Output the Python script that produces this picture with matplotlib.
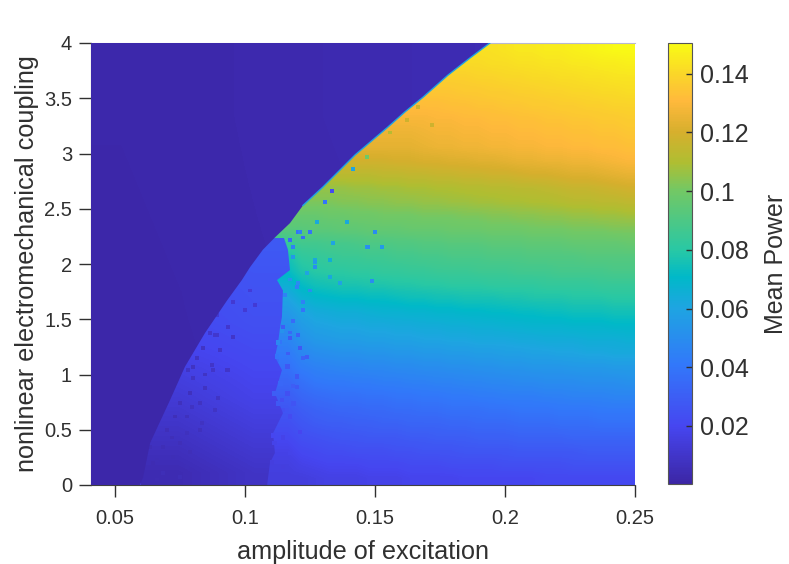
import numpy as np
import matplotlib
matplotlib.use('Agg')
import matplotlib.pyplot as plt
from matplotlib.colors import LinearSegmentedColormap, Normalize
from matplotlib.patches import Polygon

plt.rcParams['font.family'] = ['Liberation Sans', 'DejaVu Sans']
text_col = '#303030'

# colours
cmap_pos = [0.0, 0.13, 0.27, 0.40, 0.47, 0.53, 0.667, 0.73, 0.80, 0.87, 0.933, 1.0]
cmap_rgb = [(60, 38, 165), (70, 70, 240), (50, 120, 250), (30, 165, 225), (0, 185, 200), (40, 200, 165),
            (115, 200, 100), (175, 190, 50), (215, 175, 45), (255, 185, 60), (250, 215, 40), (249, 251, 21)]

amp_range = [0.04077, 0.25]
coupling_range = [0, 4]
power_range = [0.0002, 0.1505]

# mean power x 1000 of the high branch, rows from coupling 4 down to 0
power = [
    [143]*29 + [143, 144, 145, 145, 146, 146, 147, 148, 149, 150, 150],
    [141]*28 + [141, 142, 142, 143, 143, 144, 144, 145, 145, 146, 146, 147],
    [138]*27 + [138, 139, 139, 140, 140, 141, 141, 142, 142, 143, 143, 144, 144],
    [135]*26 + [135, 136, 136, 137, 137, 138, 138, 139, 139, 140, 140, 141, 141, 142],
    [132]*25 + [132, 133, 133, 134, 134, 135, 135, 136, 136, 137, 137, 138, 138, 139, 139],
    [129]*24 + [129, 130, 130, 131, 131, 132, 132, 133, 133, 134, 134, 135, 135, 136, 136, 137],
    [126]*23 + [126, 127, 128, 128, 129, 129, 130, 130, 131, 131, 132, 132, 133, 133, 134, 134, 135],
    [124]*22 + [124, 124, 125, 126, 126, 127, 127, 128, 128, 129, 129, 130, 130, 131, 131, 132, 132, 133],
    [119]*20 + [119, 119, 120, 120, 121, 121, 122, 122, 123, 123, 124, 125, 125, 126, 126, 127, 127, 128, 129, 130],
    [113]*19 + [113, 113, 114, 114, 115, 115, 116, 116, 117, 117, 118, 118, 119, 120, 120, 121, 122, 122, 123, 124, 125],
    [106]*18 + [106, 107, 107, 108, 108, 109, 109, 110, 110, 111, 111, 112, 112, 113, 113, 114, 115, 116, 116, 117, 118, 119],
    [102]*17 + [102, 103, 103, 104, 104, 105, 105, 106, 106, 107, 107, 108, 108, 109, 109, 110, 110, 111, 112, 112, 113, 113, 114],
    [97]*16 + [97, 98, 98, 99, 99, 100, 100, 100, 101, 101, 101, 102, 102, 103, 103, 104, 104, 105, 105, 106, 106, 107, 107, 108],
    [93]*15 + [93, 94, 94, 95, 95, 96, 96, 96, 97, 97, 97, 98, 98, 98, 99, 99, 99, 100, 100, 100, 101, 101, 101, 102, 102],
    [84]*14 + [84, 87, 87, 88, 88, 89, 90, 90, 91, 91, 92, 92, 93, 93, 93, 94, 94, 94, 95, 95, 95, 96, 96, 96, 96, 97],
    [76]*14 + [76, 82, 83, 84, 85, 85, 86, 86, 87, 87, 88, 88, 89, 89, 89, 90, 90, 90, 91, 91, 91, 91, 92, 92, 92, 92],
    [72]*14 + [72, 78, 80, 81, 81, 82, 82, 83, 83, 84, 84, 85, 85, 85, 86, 86, 86, 87, 87, 87, 88, 88, 88, 88, 89, 89],
    [66]*14 + [66, 72, 75, 76, 77, 77, 78, 78, 79, 79, 80, 80, 81, 81, 81, 82, 82, 82, 82, 83, 83, 83, 83, 84, 84, 84],
    [60]*14 + [60, 66, 69, 70, 71, 71, 72, 72, 73, 74, 74, 75, 75, 76, 76, 76, 77, 77, 78, 78, 78, 79, 79, 79, 80, 80],
    [55]*14 + [55, 60, 63, 64, 65, 65, 66, 67, 67, 68, 68, 69, 69, 70, 70, 71, 71, 72, 72, 73, 73, 74, 74, 74, 75, 75],
    [50]*14 + [50, 56, 59, 60, 61, 61, 62, 62, 63, 63, 64, 64, 65, 65, 66, 66, 67, 67, 68, 68, 68, 69, 69, 69, 70, 70],
    [46]*14 + [46, 52, 55, 56, 57, 57, 58, 58, 59, 59, 60, 60, 61, 61, 62, 62, 62, 63, 63, 64, 64, 64, 65, 65, 65, 66],
    [42]*14 + [42, 47, 50, 51, 52, 52, 53, 53, 54, 54, 55, 55, 56, 56, 57, 57, 58, 58, 59, 59, 60, 60, 61, 61, 62, 62],
    [38]*14 + [38, 43, 45, 46, 47, 47, 48, 48, 49, 49, 50, 50, 51, 51, 52, 52, 53, 53, 54, 54, 54, 55, 55, 55, 56, 56],
    [34]*14 + [34, 38, 41, 42, 42, 43, 43, 44, 44, 45, 45, 46, 46, 47, 47, 48, 48, 49, 49, 50, 50, 50, 51, 51, 51, 52],
    [30]*14 + [30, 34, 36, 37, 38, 38, 39, 39, 40, 40, 41, 41, 42, 42, 43, 43, 44, 44, 44, 45, 45, 46, 46, 46, 47, 47],
    [27]*14 + [27, 30, 32, 33, 34, 34, 35, 35, 36, 36, 37, 37, 38, 38, 38, 39, 39, 40, 40, 40, 41, 41, 41, 42, 42, 42],
    [24]*14 + [24, 27, 29, 30, 30, 31, 31, 32, 32, 33, 33, 33, 34, 34, 35, 35, 35, 36, 36, 36, 37, 37, 37, 38, 38, 38],
    [21]*14 + [21, 24, 25, 26, 27, 27, 28, 28, 28, 29, 29, 30, 30, 30, 31, 31, 31, 32, 32, 32, 32, 33, 33, 33, 33, 33],
    [18]*14 + [18, 21, 22, 23, 23, 24, 24, 24, 25, 25, 26, 26, 26, 27, 27, 27, 27, 28, 28, 28, 28, 28, 29, 29, 29, 29],
    [16]*14 + [16, 18, 19, 20, 20, 20, 21, 21, 21, 22, 22, 22, 23, 23, 23, 23, 24, 24, 24, 24, 24, 25, 25, 25, 25, 25],
    [15]*14 + [15, 15, 16, 17, 17, 17, 18, 18, 18, 19, 19, 19, 19, 20, 20, 20, 20, 20, 20, 21, 21, 21, 21, 21, 21, 21],
]

# middle branch x 1000, coupling 2.25 on top and 0 at the bottom, low and high amplitude side
mid_power = [
    [24, 28], [23, 26], [22, 25], [21, 24], [19, 22],
    [16, 20], [13, 18], [10, 15], [7, 12], [4, 9],
]
mid_amp_range = [0.06, 0.118]
mid_coupling_range = [0, 2.25]

# second transition between the middle and high branch
second_coupling = [0, 0.2, 0.29, 0.47, 0.65, 0.83, 1.04, 1.16, 1.285, 1.43, 1.52, 1.76, 1.855, 1.945, 2.13, 2.235]
second_amp = [0.1085, 0.1096, 0.1115, 0.1108, 0.1146, 0.1115, 0.1142, 0.1115, 0.1127, 0.1135, 0.1142, 0.1146,
              0.1123, 0.1173, 0.1165, 0.115]

# low power region left of the edge, x 1000, coupling 4 on top
low_power = [
    [2.0, 2.2, 2.6, 3.0, 3.4, 3.8, 4.4, 5.0, 5.4],
    [1.8, 2.0, 2.4, 2.7, 3.0, 3.4, 3.8, 4.2, 4.6],
    [1.6, 1.8, 2.0, 2.2, 2.5, 2.8, 3.0, 3.2, 3.4],
]

# edge of the low power region
edge_coupling = [4, 3.864, 3.71, 3.51, 3.376, 3.24, 3.14, 2.986, 2.805, 2.697, 2.53, 2.37, 2.24, 2.13, 1.97, 1.855,
                 1.67, 1.375, 1.07, 0.77, 0.38, 0.07, 0]
edge_amp = [0.1942, 0.1865, 0.1781, 0.1685, 0.1615, 0.155, 0.15, 0.1423, 0.1346, 0.13, 0.1223, 0.1173, 0.1115, 0.1069,
            0.1019, 0.0988, 0.0931, 0.0846, 0.0769, 0.0712, 0.0635, 0.0608, 0.0596]

# isolated points, dropped low in the band next to the edge
low_speck_amp = [0.1019, 0.1038, 0.1, 0.0954, 0.0935, 0.0892, 0.0954, 0.0892, 0.0838, 0.0931, 0.0877, 0.0846, 0.08,
                 0.0896, 0.0885, 0.0827, 0.0788, 0.075, 0.0731, 0.07, 0.0777, 0.0827, 0.0685, 0.0723, 0.0646, 0.0777, 0.0662,
                 0.0865, 0.0885, 0.0904, 0.0935, 0.0873, 0.0846, 0.0796, 0.0835, 0.0777, 0.075, 0.0719, 0.0788, 0.0662,
                 0.0685, 0.075, 0.0635, 0.08, 0.0815, 0.0781]
low_speck_coupling = [1.76, 1.63, 1.58, 1.66, 1.43, 1.54, 1.34, 1.36, 1.24, 1.04, 1.04, 1.0, 1.07,
                      0.79, 0.68, 0.74, 0.83, 0.74, 0.62, 0.5, 0.62, 0.5, 0.34, 0.25, 0.2, 0.16, 0.05,
                      1.375, 1.36, 1.22, 1.04, 1.09, 0.88, 0.71, 0.56, 0.47, 0.38, 0.43, 0.3, 0.23,
                      0.11, 0.07, 0.34, 0.97, 1.15, 1.04]
low_speck_power = [14, 13, 13, 12, 11, 12, 10, 11, 9, 10, 10, 9, 8, 9, 9, 8, 7, 7, 6, 6, 7, 7, 5, 5, 4, 5, 4,
                   11, 11, 10, 10, 10, 8, 8, 8, 7, 6, 6, 6, 5, 5, 5, 5, 9, 9, 9]

# isolated points on the high branch
high_speck_amp = [0.1415, 0.1335, 0.1308, 0.1277, 0.1392, 0.1204, 0.1173, 0.1223, 0.125, 0.1135, 0.1185, 0.1469, 0.1338,
                  0.1269, 0.1146, 0.1327, 0.1212, 0.1238, 0.1204, 0.1185, 0.1223, 0.1165, 0.1185, 0.1162, 0.1142, 0.1135,
                  0.1212, 0.1123, 0.1135, 0.1154, 0.1173, 0.1238, 0.12,
                  0.1142, 0.1212, 0.1135, 0.1154, 0.1185, 0.1269, 0.1269, 0.15, 0.1473, 0.1527, 0.1488, 0.1327, 0.1365,
                  0.1204, 0.1223, 0.125, 0.1173, 0.12, 0.1146, 0.1173, 0.1146, 0.1665, 0.1558, 0.1469, 0.1719, 0.1623]
high_speck_coupling = [2.86, 2.66, 2.56, 2.38, 2.38, 2.29, 2.22, 2.24, 2.29, 2.19, 2.15, 2.15, 2.19,
                       2.04, 2.02, 2.04, 1.24, 1.16, 1.36, 1.48, 1.58, 1.19, 0.9, 0.68, 0.77, 0.5,
                       0.48, 1.13, 1.29, 1.72, 1.86, 1.92, 1.79,
                       2.22, 2.29, 2.02, 1.945, 2.06, 2.02, 1.97, 2.29, 2.15, 2.15, 1.85, 1.88, 1.83,
                       1.83, 1.66, 1.76, 1.38, 0.89, 0.68, 0.29, 0.16, 3.42, 3.19, 2.97, 3.26, 3.3]
high_speck_power = [60, 22, 40, 62, 62, 38, 35, 36, 40, 38, 45, 55, 60,
                    62, 40, 65, 28, 30, 32, 36, 40, 30, 30, 26, 24, 22, 20, 36, 40, 45, 55, 60, 45,
                    40, 45, 55, 45, 55, 55, 50, 50, 50, 55, 50, 62, 60,
                    50, 45, 52, 35, 28, 24, 18, 15, 118, 112, 100, 118, 118]

# fringe of the second transition
fringe_amp = [0.1127, 0.1123, 0.1135, 0.1115, 0.1127, 0.1108, 0.1115, 0.1104, 0.1142, 0.1135,
              0.1173, 0.12, 0.1162, 0.1173, 0.1146, 0.1185, 0.1223, 0.1162, 0.1146]
fringe_coupling = [1.29, 1.16, 1.24, 0.83, 0.74, 0.45, 0.38, 0.2, 1.4, 0.92,
                   1.33, 0.98, 0.83, 0.62, 0.43, 0.74, 1.15, 1.07, 1.43]
fringe_power = [48, 40, 42, 30, 28, 20, 18, 15, 52, 34, 28, 28, 24, 22, 18, 26, 32, 28, 30]

parula = LinearSegmentedColormap.from_list(
    'parula_like', [(p, tuple(c / 255 for c in rgb)) for p, rgb in zip(cmap_pos, cmap_rgb)], N=256)
norm = Normalize(power_range[0], power_range[1])
extent = amp_range + coupling_range

fig = plt.figure(figsize=(7.89, 5.64), dpi=100)
ax = fig.add_axes([91 / 789, 1 - 485 / 564, 544 / 789, 442 / 564])
cax = fig.add_axes([668 / 789, 1 - 484 / 564, 24 / 789, 441 / 564])

# high branch
im = ax.imshow(np.array(power) / 1000, extent=extent, origin='upper', aspect='auto',
               cmap=parula, norm=norm, interpolation='bilinear')
ax.scatter(high_speck_amp, high_speck_coupling, c=np.array(high_speck_power) / 1000, cmap=parula, norm=norm,
           s=8, marker='s', linewidths=0, zorder=2)

# middle branch, cut along the second transition
mid = ax.imshow(np.array(mid_power) / 1000, extent=mid_amp_range + mid_coupling_range, origin='upper', aspect='auto',
                cmap=parula, norm=norm, interpolation='bilinear', zorder=2.5)
mid_corners = [(amp_range[0], second_coupling[0])] + list(zip(second_amp, second_coupling)) + \
    [(amp_range[0], second_coupling[-1])]
mid.set_clip_path(Polygon(mid_corners, closed=True, transform=ax.transData))
ax.scatter(low_speck_amp, low_speck_coupling, c=np.array(low_speck_power) / 1000, cmap=parula, norm=norm,
           s=8, marker='s', linewidths=0, zorder=2.6)
ax.scatter(fringe_amp, fringe_coupling, c=np.array(fringe_power) / 1000, cmap=parula, norm=norm,
           s=12, marker='s', linewidths=0, zorder=2.7)

# low power region, cut along the edge
low = ax.imshow(np.array(low_power) / 1000, extent=extent, origin='upper', aspect='auto',
                cmap=parula, norm=norm, interpolation='bilinear', zorder=3)
corners = [(amp_range[0], coupling_range[1])] + list(zip(edge_amp, edge_coupling)) + [(amp_range[0], coupling_range[0])]
low.set_clip_path(Polygon(corners, closed=True, transform=ax.transData))

# thin light line along the upper part of the edge
ax.plot(edge_amp[:11], edge_coupling[:11], color=parula(norm(0.06)), lw=1.0, zorder=4)

ax.set_xlim(amp_range)
ax.set_ylim(coupling_range)
ax.set_xticks([0.05, 0.1, 0.15, 0.2, 0.25])
ax.set_xticklabels(['0.05', '0.1', '0.15', '0.2', '0.25'])
ax.set_yticks([0, 0.5, 1, 1.5, 2, 2.5, 3, 3.5, 4])
ax.set_yticklabels(['0', '0.5', '1', '1.5', '2', '2.5', '3', '3.5', '4'])
ax.tick_params(direction='out', length=8.6, width=1, labelsize=14.5, colors=text_col)
ax.tick_params(axis='x', pad=9)
ax.tick_params(axis='y', pad=5)
ax.set_xlabel('amplitude of excitation', fontsize=18.2, color=text_col)
ax.xaxis.set_label_coords(0.5, -0.1244)
ax.set_ylabel('nonlinear electromechanical coupling', fontsize=18.2, color=text_col)
ax.yaxis.set_label_coords(-0.0956, 0.5)
ax.spines['right'].set_visible(False)
ax.spines['top'].set_color('#b8b8d0')
for side in ['left', 'bottom']:
    ax.spines[side].set_color('#404040')

cbar = fig.colorbar(im, cax=cax)
cbar.set_ticks([0.02, 0.04, 0.06, 0.08, 0.1, 0.12, 0.14])
cbar.set_ticklabels(['0.02', '0.04', '0.06', '0.08', '0.1', '0.12', '0.14'])
cbar.ax.tick_params(direction='in', length=4, width=1, labelsize=18, colors=text_col, pad=6)
cbar.set_label('Mean Power', fontsize=18, color=text_col, labelpad=11)
cbar.outline.set_edgecolor('#555555')
cbar.outline.set_linewidth(0.8)

fig.savefig('out.png', dpi=100)
